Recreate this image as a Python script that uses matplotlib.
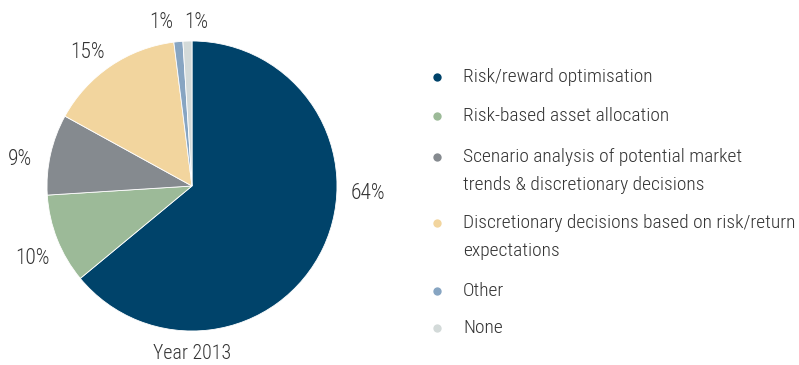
import matplotlib
matplotlib.use("Agg")
import matplotlib.pyplot as plt
from matplotlib import font_manager

categories = [
    "Risk/reward optimisation",
    "Risk-based asset allocation",
    "Scenario analysis of potential market\ntrends & discretionary decisions",
    "Discretionary decisions based on risk/return\nexpectations",
    "Other",
    "None",
]
shares = [64, 10, 9, 15, 1, 1]
colors = ["#00436A", "#9CBA98", "#858A8F", "#F2D59E", "#87A5C2", "#D3DAD9"]
title = "Year 2013"

names = {f.name for f in font_manager.fontManager.ttflist}
preferred = ["Roboto Condensed", "Open Sans Condensed", "Liberation Sans Narrow", "Lato"]
family = next((f for f in preferred if f in names), "DejaVu Sans")
plt.rcParams["font.family"] = [family, "DejaVu Sans"]
plt.rcParams["font.weight"] = "light"
text_color = "#333333"

W, H = 799, 365
fig = plt.figure(figsize=(W / 100, H / 100), dpi=100)

# pie axes: centre (192, 186) px, radius 145 px
cx, cy, r = 192, 186, 145
ax = fig.add_axes([(cx - r) / W, (H - cy - r) / H, 2 * r / W, 2 * r / H])
ax.pie(shares, colors=colors, startangle=90, counterclock=False,
       wedgeprops=dict(linewidth=0.6, edgecolor="white"))
ax.set_xlim(-1, 1)
ax.set_ylim(-1, 1)
ax.set_aspect("equal")
ax.axis("off")

# percentage labels placed around the pie (axes data units)
label_pos = [(1.214, -0.05), (-1.097, -0.50), (-1.186, 0.18),
             (-0.72, 0.92), (-0.21, 1.13), (0.03, 1.13)]
for v, (x, y) in zip(shares, label_pos):
    ax.text(x, y, f"{v}%", ha="center", va="center", fontsize=15.5,
            color=text_color, clip_on=False)
ax.text(0, -1.155, title, ha="center", va="center", fontsize=14.3,
        color=text_color, clip_on=False)

# legend drawn in pixel coordinates
lax = fig.add_axes([0, 0, 1, 1])
lax.set_xlim(0, W)
lax.set_ylim(H, 0)
lax.axis("off")
rows_y = [77, 116, 157, 223, 291, 328]
line_h = 28
for lab, col, y in zip(categories, colors, rows_y):
    lax.plot([437], [y], marker="o", markersize=6, color=col, markeredgewidth=0)
    for i, part in enumerate(lab.split("\n")):
        lax.text(463, y + i * line_h, part, ha="left", va="center",
                 fontsize=14, color=text_color)

fig.savefig("out.png", dpi=100)
